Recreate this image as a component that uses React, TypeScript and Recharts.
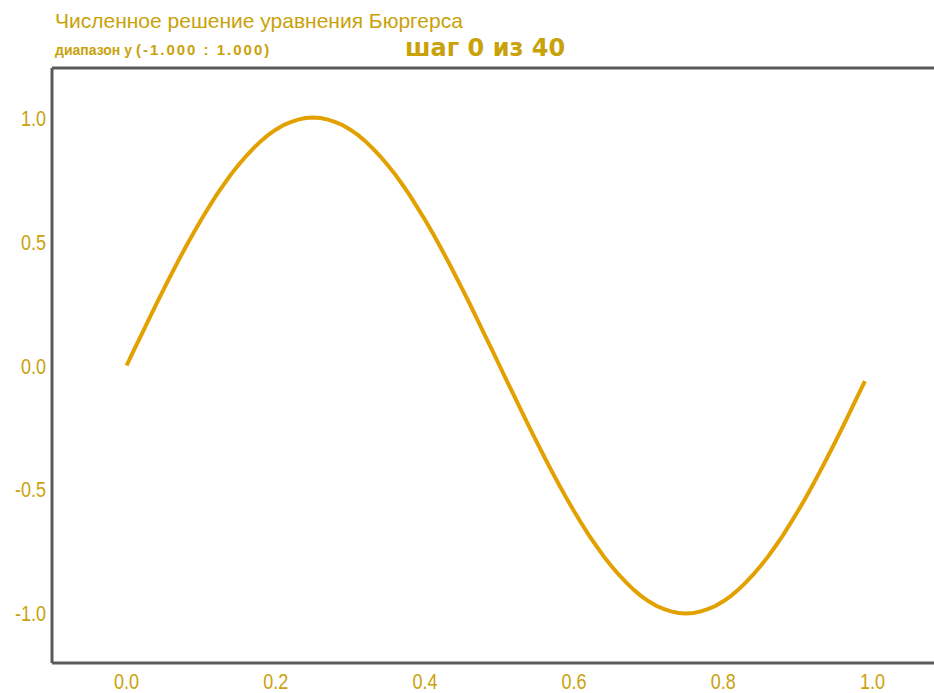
import { LineChart, Line, XAxis, YAxis, ReferenceLine } from "recharts";

// x positions of the grid points (step 0 of 40)
const xValues = [
  0.0, 0.01, 0.02, 0.03, 0.04, 0.05, 0.06, 0.07, 0.08, 0.09,
  0.1, 0.11, 0.12, 0.13, 0.14, 0.15, 0.16, 0.17, 0.18, 0.19,
  0.2, 0.21, 0.22, 0.23, 0.24, 0.25, 0.26, 0.27, 0.28, 0.29,
  0.3, 0.31, 0.32, 0.33, 0.34, 0.35, 0.36, 0.37, 0.38, 0.39,
  0.4, 0.41, 0.42, 0.43, 0.44, 0.45, 0.46, 0.47, 0.48, 0.49,
  0.5, 0.51, 0.52, 0.53, 0.54, 0.55, 0.56, 0.57, 0.58, 0.59,
  0.6, 0.61, 0.62, 0.63, 0.64, 0.65, 0.66, 0.67, 0.68, 0.69,
  0.7, 0.71, 0.72, 0.73, 0.74, 0.75, 0.76, 0.77, 0.78, 0.79,
  0.8, 0.81, 0.82, 0.83, 0.84, 0.85, 0.86, 0.87, 0.88, 0.89,
  0.9, 0.91, 0.92, 0.93, 0.94, 0.95, 0.96, 0.97, 0.98, 0.99,
];

// u values
const uValues = [
  0.0, 0.063, 0.125, 0.187, 0.249, 0.309, 0.368, 0.426, 0.482, 0.536,
  0.588, 0.637, 0.685, 0.729, 0.771, 0.809, 0.844, 0.876, 0.905, 0.93,
  0.951, 0.969, 0.982, 0.992, 0.998, 1.0, 0.998, 0.992, 0.982, 0.969,
  0.951, 0.93, 0.905, 0.876, 0.844, 0.809, 0.771, 0.729, 0.685, 0.637,
  0.588, 0.536, 0.482, 0.426, 0.368, 0.309, 0.249, 0.187, 0.125, 0.063,
  0.0, -0.063, -0.125, -0.187, -0.249, -0.309, -0.368, -0.426, -0.482, -0.536,
  -0.588, -0.637, -0.685, -0.729, -0.771, -0.809, -0.844, -0.876, -0.905, -0.93,
  -0.951, -0.969, -0.982, -0.992, -0.998, -1.0, -0.998, -0.992, -0.982, -0.969,
  -0.951, -0.93, -0.905, -0.876, -0.844, -0.809, -0.771, -0.729, -0.685, -0.637,
  -0.588, -0.536, -0.482, -0.426, -0.368, -0.309, -0.249, -0.187, -0.125, -0.063,
];

const xTicks = [0, 0.2, 0.4, 0.6, 0.8, 1.0];
const yTicks = [-1, -0.5, 0, 0.5, 1];

const title = "Численное решение уравнения Бюргерса";
const subtitleWord = "диапазон y ";
const subtitleRange = "(-1.000 : 1.000)";
const stepLabel = "шаг 0 из 40";

const TEXT = "#c9a20a";
const LINE = "#e2a100";
const FRAME = "#5a5a5a";
const FONT = "'Liberation Sans', Arial, sans-serif";

const data = xValues.map((x, i) => ({ x, u: uValues[i] }));

// tick labels in the original are drawn tall and narrow
const XTick = (props: any) => {
  const { x, y, payload } = props;
  return (
    <text
      transform={`translate(${x},${y + 14}) scale(1,1.25)`}
      textAnchor="middle"
      fill={TEXT}
      fontSize={18}
      fontFamily={FONT}
    >
      {Number(payload.value).toFixed(1)}
    </text>
  );
};

const YTick = (props: any) => {
  const { x, y, payload } = props;
  return (
    <text
      transform={`translate(${x},${y + 8}) scale(1,1.25)`}
      textAnchor="end"
      fill={TEXT}
      fontSize={18}
      fontFamily={FONT}
    >
      {Number(payload.value).toFixed(1)}
    </text>
  );
};

export default function App() {
  return (
    <div style={{ position: "fixed", left: 0, top: 0, width: 934, height: 693, overflow: "hidden", background: "#fff" }}>
      <div style={{ position: "absolute", left: 55, top: 10, fontFamily: FONT, fontSize: 21, lineHeight: 1, color: TEXT, whiteSpace: "nowrap" }}>
        {title}
      </div>
      <div style={{ position: "absolute", left: 55, top: 42, fontFamily: FONT, fontWeight: 700, lineHeight: 1, color: TEXT, whiteSpace: "nowrap" }}>
        <span style={{ fontSize: 14 }}>{subtitleWord}</span>
        <span style={{ fontSize: 15, letterSpacing: 2 }}>{subtitleRange}</span>
      </div>
      <div style={{ position: "absolute", left: 405, top: 36, fontFamily: "'DejaVu Sans', sans-serif", fontSize: 24, fontWeight: 700, lineHeight: 1, color: TEXT, whiteSpace: "nowrap" }}>
        {stepLabel}
      </div>
      <div style={{ position: "absolute", left: 0, top: 0 }}>
        <LineChart width={970} height={693} data={data} margin={{ top: 68, right: 23, bottom: 0, left: 7 }}>
          <XAxis
            dataKey="x"
            type="number"
            domain={[-0.1, 1.1]}
            ticks={xTicks}
            tick={<XTick />}
            tickLine={false}
            tickSize={0}
            tickMargin={12}
            height={30}
            axisLine={{ stroke: FRAME, strokeWidth: 3 }}
            allowDataOverflow
          />
          <YAxis
            type="number"
            domain={[-1.2, 1.2]}
            ticks={yTicks}
            tick={<YTick />}
            tickLine={false}
            tickSize={0}
            tickMargin={6}
            width={45}
            axisLine={{ stroke: FRAME, strokeWidth: 3 }}
            allowDataOverflow
          />
          <ReferenceLine y={1.2} stroke={FRAME} strokeWidth={3} />
          <Line
            dataKey="u"
            type="linear"
            stroke={LINE}
            strokeWidth={4}
            dot={false}
            isAnimationActive={false}
          />
        </LineChart>
      </div>
    </div>
  );
}
